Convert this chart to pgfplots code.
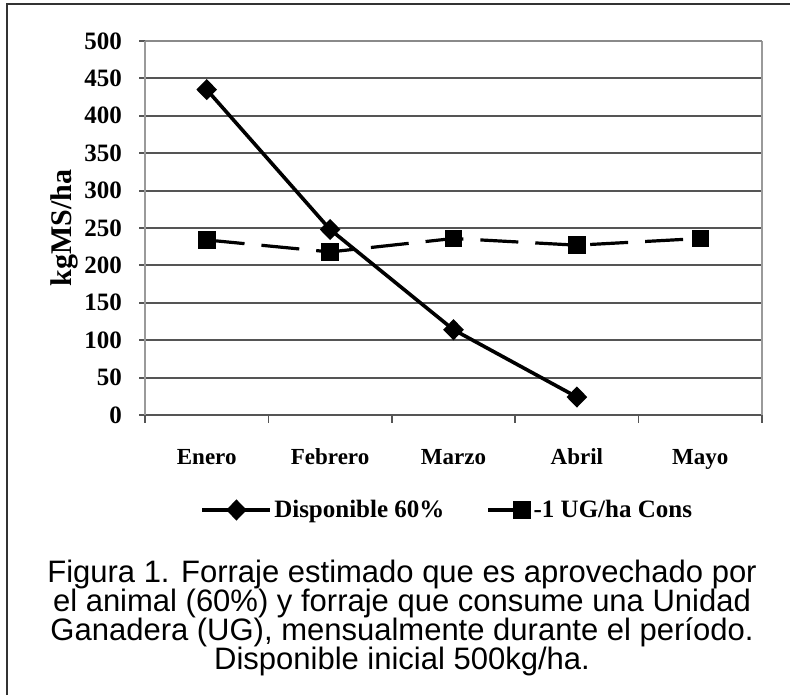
\documentclass[border=0pt]{standalone}
\usepackage{fontspec}
\setmainfont{Liberation Serif}
\newfontfamily\capfont{Liberation Sans}
\usepackage{pgfplots}
\pgfplotsset{compat=1.18}
\definecolor{gridc}{HTML}{555555}
\definecolor{axc}{HTML}{9A9A9A}
\definecolor{topc}{HTML}{8A8A8A}
\pgfplotsset{
  legA/.style={legend image code/.code={\draw[mark repeat=2,mark phase=2,##1] plot coordinates {(0pt,0pt) (17pt,0pt) (34pt,0pt)};}},
  legB/.style={legend image code/.code={\draw[mark repeat=2,mark phase=2,##1] plot coordinates {(0pt,0pt) (17pt,0pt) (21pt,0pt)};}},
}
\begin{document}
\begin{tikzpicture}[x=1pt,y=1pt]
\useasboundingbox (0,0) rectangle (395,347.5);
\draw[line width=1pt, color=black!80] (3.5,0) -- (3.5,345.5) -- (395,345.5);
\begin{axis}[
  at={(72.5pt,140pt)}, anchor=south west,
  scale only axis, width=308.5pt, height=187pt,
  xmin=-0.5, xmax=4.5, ymin=0, ymax=500,
  axis x line*=bottom, axis y line*=left,
  x axis line style={-, draw=gridc, line width=1pt},
  y axis line style={-, draw=axc, line width=1pt},
  ytick={0,50,...,500},
  xtick={0,1,2,3,4},
  xticklabels={Enero,Febrero,Marzo,Abril,Mayo},
  minor xtick={-0.5,0.5,1.5,2.5,3.5,4.5},
  major x tick style={draw=none},
  minor x tick style={draw=gridc, line width=0.8pt},
  major y tick style={draw=gridc, line width=1pt},
  tick align=outside,
  major tick length=3pt, minor tick length=4pt,
  ymajorgrids, grid style={draw=gridc, line width=1pt},
  /pgf/number format/assume math mode=true,
  yticklabel style={font=\bfseries\fontsize{12.5}{12.5}\selectfont, xshift=-5pt},
  xticklabel style={font=\bfseries\fontsize{11.5}{12}\selectfont, text height=8pt, text depth=2.5pt, yshift=-10pt},
  ylabel={kgMS/ha},
  ylabel style={at={(axis description cs:-0.131,0.5)}, anchor=center, font=\bfseries\fontsize{15}{15}\selectfont},
  legend columns=2,
  legend style={at={(axis description cs:0.49,-0.254)}, anchor=center, draw=none, fill=none,
    font=\bfseries\fontsize{12.5}{12.5}\selectfont,
    /tikz/every even column/.append style={column sep=20pt},
    nodes={inner sep=1pt}},
  clip=false,
]
\addplot[black, line width=1.8pt, mark=diamond*, mark size=4pt, mark options={solid, xscale=1.3}, legA]
  coordinates {(0,435) (1,248) (2,114) (3,24)};
\addlegendentry{Disponible 60\%}
\addplot[black, line width=1.6pt, dash pattern=on 19pt off 8.5pt, mark=square*, mark size=3.6pt, mark options={solid}, legB]
  coordinates {(0,234) (1,218) (2,236) (3,227) (4,236)};
\addlegendentry{-1 UG/ha Cons}
\draw[axc, line width=1pt] (axis description cs:1,0) -- (axis description cs:1,1);
\draw[topc, line width=1pt] (axis description cs:0,1) -- (axis description cs:1,1);
\end{axis}
\begin{scope}[every node/.style={font=\capfont\fontsize{15.5}{15}\selectfont, inner sep=0pt, anchor=base}]
\node at (201,56.5) {Figura 1. Forraje estimado que es aprovechado por};
\node at (201,42) {el animal (60\%) y forraje que consume una Unidad};
\node at (201,27.5) {Ganadera (UG), mensualmente durante el período.};
\node at (201,13) {Disponible inicial 500kg/ha.};
\end{scope}
\end{tikzpicture}
\end{document}
